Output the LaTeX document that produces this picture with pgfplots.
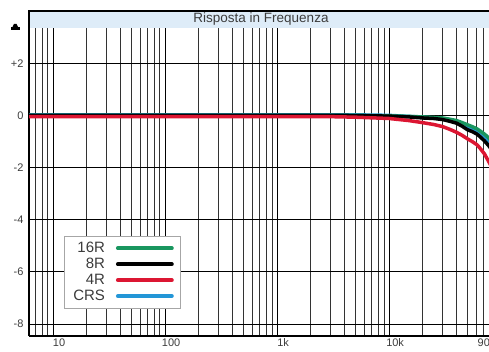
\documentclass[border=0pt]{standalone}
\usepackage{pgfplots}
\pgfplotsset{compat=1.18}
\usepackage{fontspec}
\setmainfont{Liberation Sans}
\definecolor{cGreen}{RGB}{25,150,95}
\definecolor{cRed}{RGB}{220,22,50}
\definecolor{cBlue}{RGB}{35,150,215}
\definecolor{band}{RGB}{222,236,248}
\definecolor{lab}{RGB}{60,60,60}
\begin{document}
\begin{tikzpicture}
\useasboundingbox (0,0) rectangle (489pt,351pt);
\begin{scope}
\clip (0,0) rectangle (489pt,351pt);
% title band
\fill[band] (29pt,323pt) rectangle (500pt,340pt);
\draw[black,line width=1.6pt] (28.2pt,340pt) -- (500pt,340pt);
\draw[black,line width=1.6pt] (29pt,323pt) -- (29pt,340.8pt);
\node[font=\fontsize{13.5}{14}\selectfont, text=lab] at (261pt,331.5pt) {Risposta in Frequenza};
% small speaker icon
\fill[black] (11pt,320.5pt) rectangle (19.5pt,324pt);
\fill[black] (12.5pt,324pt) -- (18pt,324pt) -- (16.5pt,327pt) -- (14pt,327pt) -- cycle;
\begin{axis}[
  at={(29pt,15pt)}, anchor=south west,
  scale only axis, width=467pt, height=308pt,
  xmode=log, xmin=6.1, xmax=90000,
  ymin=-8.46, ymax=3.35,
  axis x line*=bottom, axis y line*=left,
  axis line style={black, line width=1.6pt},
  xtick={10,100,1000,10000},
  xticklabels={10,100,1k,10k},
  extra x ticks={90000}, extra x tick labels={90k},
  extra x tick style={x tick label style={xshift=-15.5pt}},
  minor xtick={7,8,9,20,30,40,50,60,70,80,90,200,300,400,500,600,700,800,900,2000,3000,4000,5000,6000,7000,8000,9000,20000,30000,40000,50000,60000,70000,80000},
  ytick={-8,-6,-4,-2,0,2},
  yticklabels={-8,-6,-4,-2,0,+2},
  xmajorgrids, xminorgrids, ymajorgrids,
  major grid style={black, line width=1pt},
  minor grid style={black!80, line width=0.9pt},
  tick align=outside,
  major tick length=0pt, minor tick length=0pt,
  y tick label style={font=\fontsize{11}{12}\selectfont, text=lab, xshift=-2pt},
  x tick label style={font=\fontsize{11}{12}\selectfont, text=lab, xshift=6pt, yshift=1pt},
  legend style={at={(0.0749,0.3247)}, anchor=north west, draw=gray!70, line width=0.6pt,
    font=\fontsize{15}{15}\selectfont, text=lab, inner xsep=7pt, inner ysep=4pt,
    row sep=0pt, cells={anchor=east},
    /tikz/every odd column/.append style={column sep=9pt}},
  legend plot pos=right,
  legend image code/.code={\draw[#1, line width=3.8pt, line cap=round] (0pt,0pt) -- (54pt,0pt);},
]
\addplot[cBlue, line width=3.5pt, forget plot] coordinates {
(6.1,0.02) (5000,0.02) (10000,0.0) (20000,-0.07) (30000,-0.12) (40000,-0.24) (50000,-0.44) (61000,-0.6) (71000,-0.83) (77000,-0.98) (85000,-1.2) (90000,-1.35)};
\addplot[cGreen, line width=3.5pt] coordinates {
(6.1,0) (5000,0) (10000,-0.02) (15000,-0.04) (20000,-0.06) (25000,-0.08) (30000,-0.1) (35000,-0.15) (40000,-0.2) (45000,-0.28) (50000,-0.36) (55000,-0.43) (61000,-0.52) (66000,-0.62) (71000,-0.72) (77000,-0.85) (85000,-1.05) (90000,-1.2)};
\addlegendentry{16R}
\addplot[black, line width=3.5pt] coordinates {
(6.1,0) (3000,0) (6000,-0.01) (10000,-0.03) (15000,-0.06) (20000,-0.1) (25000,-0.12) (30000,-0.16) (35000,-0.23) (40000,-0.3) (45000,-0.42) (50000,-0.55) (55000,-0.62) (61000,-0.72) (66000,-0.85) (71000,-0.98) (77000,-1.15) (85000,-1.4) (90000,-1.55)};
\addlegendentry{8R}
\addplot[cRed, line width=3.5pt] coordinates {
(6.1,-0.05) (1000,-0.05) (3000,-0.05) (5000,-0.07) (10000,-0.12) (15000,-0.2) (20000,-0.28) (25000,-0.35) (30000,-0.43) (35000,-0.54) (40000,-0.65) (45000,-0.77) (50000,-0.9) (55000,-1.0) (61000,-1.13) (66000,-1.3) (71000,-1.48) (77000,-1.75) (85000,-2.1) (90000,-2.35)};
\addlegendentry{4R}
\addlegendimage{cBlue, line width=3.5pt}
\addlegendentry{CRS}
\node[font=\fontsize{11}{12}\selectfont, text=lab, anchor=north] at (axis cs:34,-8.46) [yshift=-2.5pt] {Hz};
\end{axis}
\end{scope}
\end{tikzpicture}
\end{document}
